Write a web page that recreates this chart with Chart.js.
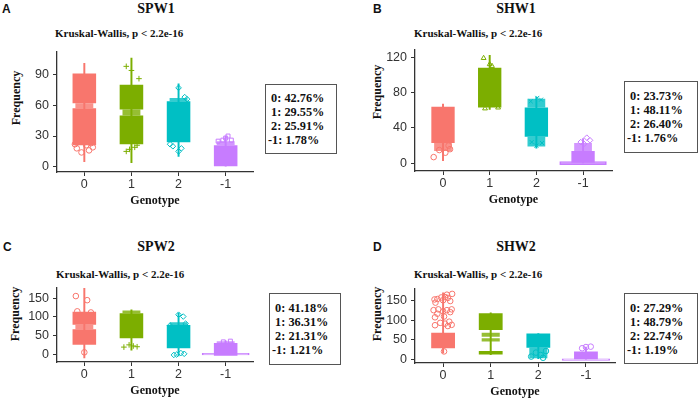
<!DOCTYPE html>
<html>
<head>
<meta charset="utf-8" />
<title>Genotype frequency</title>
<script src="https://cdn.jsdelivr.net/npm/chart.js@4.4.0/dist/chart.umd.min.js"></script>
<style>
  body { margin: 0; width: 700px; height: 399px; background: #fff; position: relative; overflow: hidden; }
  .t { position: absolute; white-space: pre; color: #111; }
  .letter { font: bold 12px "Liberation Sans", Arial, sans-serif; line-height: 14px; }
  .title { font: bold 14px "Liberation Serif", "Times New Roman", serif; line-height: 16px; transform: translateX(-50%); }
  .sub { font: bold 11px "Liberation Serif", "Times New Roman", serif; line-height: 13px; }
  .ylab { font: bold 12px "Liberation Serif", "Times New Roman", serif; line-height: 14px; transform: translate(-50%, -50%) rotate(-90deg); }
  .box { position: absolute; box-sizing: border-box; border: 1.5px solid #555; padding-left: 2px;
         display: flex; flex-direction: column; justify-content: center;
         font: bold 12.3px "Liberation Serif", "Times New Roman", serif; line-height: 14px; white-space: pre; color: #111; }
  canvas { position: absolute; }
</style>
</head>
<body>
<div class="t letter" style="left:2px;top:2px">A</div>
<div class="t title" style="left:156px;top:1px">SPW1</div>
<div class="t sub" style="left:55px;top:27px">Kruskal-Wallis, p &lt; 2.2e-16</div>
<div class="t ylab" style="left:16px;top:98px">Frequency</div>
<div class="box" style="left:265px;top:84px;width:72px;height:70px"> 0: 42.76%
 1: 29.55%
 2: 25.91%
-1: 1.78%</div>

<div class="t letter" style="left:373px;top:2px">B</div>
<div class="t title" style="left:516px;top:1px">SHW1</div>
<div class="t sub" style="left:414px;top:27px">Kruskal-Wallis, p &lt; 2.2e-16</div>
<div class="t ylab" style="left:377px;top:92px">Frequency</div>
<div class="box" style="left:624px;top:81px;width:74px;height:72px"> 0: 23.73%
 1: 48.11%
 2: 26.40%
-1: 1.76%</div>

<div class="t letter" style="left:3px;top:240px">C</div>
<div class="t title" style="left:156px;top:239px">SPW2</div>
<div class="t sub" style="left:56px;top:268px">Kruskal-Wallis, p &lt; 2.2e-16</div>
<div class="t ylab" style="left:15px;top:314px">Frequency</div>
<div class="box" style="left:269px;top:293px;width:72px;height:72px"> 0: 41.18%
 1: 36.31%
 2: 21.31%
-1: 1.21%</div>

<div class="t letter" style="left:373px;top:240px">D</div>
<div class="t title" style="left:516px;top:239px">SHW2</div>
<div class="t sub" style="left:414px;top:268px">Kruskal-Wallis, p &lt; 2.2e-16</div>
<div class="t ylab" style="left:377px;top:314px">Frequency</div>
<div class="box" style="left:624px;top:293px;width:74px;height:71px"> 0: 27.29%
 1: 48.79%
 2: 22.74%
-1: 1.19%</div>

<canvas id="pA"></canvas>
<canvas id="pB"></canvas>
<canvas id="pC"></canvas>
<canvas id="pD"></canvas>

<script>
// genotype groups, in axis order
const genotypes = ['0', '1', '2', '-1'];
const colors = ['#F8766D', '#7CAE00', '#00BFC4', '#C77CFF'];

// SPW1: violin extent per genotype, dense point clouds [g, lo, hi], thinner clouds, single outliers [g, jitter, y]
const spw1Ticks = [0, 30, 60, 90];
const spw1Span = [[5, 101], [4, 106], [10, 81], [0, 30]];
const spw1Dense = [[0, 62, 91], [0, 21, 57], [1, 56, 80], [1, 22, 50], [2, 24, 64], [3, 0, 21]];
const spw1Thin = [[0, 57, 62], [1, 50, 56], [2, 64, 67], [3, 21, 25]];
const spw1Foot = [];
const spw1Points = [
  [0, -0.16, 18], [0, 0.1, 16], [0, -0.06, 14], [0, 0.04, 21], [0, 0.18, 19], [0, -0.2, 22], [0, 0.14, 23],
  [1, -0.11, 98], [1, 0, 94], [1, 0.16, 86], [1, -0.11, 15], [1, 0.07, 19], [1, -0.04, 17], [1, 0.12, 21],
  [2, 0, 77], [2, 0.18, 66], [2, 0.13, 68], [2, 0, 15], [2, -0.12, 20], [2, 0.06, 18], [2, -0.18, 22],
  [3, 0.05, 30], [3, 0, 28], [3, -0.06, 26], [3, -0.16, 25], [3, 0.12, 26]
];

// SHW1
const shw1Ticks = [0, 40, 80, 120];
const shw1Span = [[3, 67], [61, 122], [17, 75], [0, 28]];
const shw1Dense = [[0, 23, 64], [1, 63, 108], [2, 30, 63], [3, 0, 14]];
const shw1Thin = [[0, 14, 23], [2, 63, 73], [2, 19, 30], [3, 14, 23]];
const shw1Foot = [[3, -1.5, 2]];
const shw1Points = [
  [0, -0.2, 7], [0, 0.05, 12], [0, 0.15, 16], [0, -0.08, 15], [0, 0.12, 20],
  [1, -0.13, 119], [1, 0, 112], [1, 0.18, 63], [1, -0.1, 62], [1, 0.05, 110],
  [2, 0.1, 72], [2, -0.12, 70], [2, 0.02, 74], [2, 0, 20], [2, -0.1, 24], [2, 0.12, 23],
  [3, 0.08, 29], [3, 0.15, 26], [3, -0.05, 24], [3, 0.02, 22]
];

// SPW2
const spw2Ticks = [0, 50, 100, 150];
const spw2Span = [[-10, 177], [11, 119], [-5, 110], [0, 36]];
const spw2Dense = [[0, 79, 114], [0, 25, 67], [1, 43, 110], [2, 16, 78], [3, -4, 30]];
const spw2Thin = [[0, 67, 79], [1, 110, 117], [2, 78, 86], [3, 30, 35]];
const spw2Foot = [[3, -2, 2]];
const spw2Points = [
  [0, -0.18, 156], [0, 0.06, 145], [0, 0, 5], [0, 0.14, 112], [0, -0.15, 115],
  [1, -0.16, 19], [1, 0.04, 22], [1, 0.12, 20], [1, -0.05, 25],
  [2, 0.1, 101], [2, 0, 106], [2, -0.18, 77], [2, 0.15, 82], [2, -0.1, -2], [2, 0.05, 3], [2, -0.04, -1], [2, 0.12, 1],
  [3, 0.1, 35], [3, -0.05, 33]
];

// SHW2
const shw2Ticks = [0, 50, 100, 150];
const shw2Span = [[17, 169], [13, 118], [3, 66], [0, 32]];
const shw2Dense = [[0, 29, 68], [1, 75, 117], [1, 13, 22], [2, 30, 66], [3, 0, 21]];
const shw2Thin = [[1, 58, 68], [1, 46, 54], [2, 4, 30]];
const shw2Foot = [[3, -1.5, 2]];
const shw2Points = [
  [0, -0.18, 152], [0, -0.12, 153], [0, -0.04, 157], [0, 0.04, 158], [0, 0.1, 156], [0, 0.19, 166], [0, 0.08, 164],
  [0, 0, 150], [0, -0.16, 144], [0, 0.15, 148],
  [0, -0.2, 125], [0, -0.1, 127], [0, 0, 122], [0, 0.08, 125], [0, 0.15, 120], [0, -0.12, 116], [0, 0.18, 127],
  [0, -0.17, 107], [0, -0.06, 93], [0, 0.04, 91], [0, 0.13, 96], [0, -0.17, 87], [0, 0.1, 85], [0, 0.02, 109], [0, 0.18, 88],
  [0, 0.02, 21],
  [2, -0.15, 8], [2, 0.1, 5], [2, 0.05, 12], [2, -0.05, 18], [2, 0.16, 22],
  [3, 0, 32], [3, 0.1, 33], [3, -0.08, 29]
];

function rgba(hex, a) {
  const n = parseInt(hex.slice(1), 16);
  return 'rgba(' + (n >> 16) + ',' + ((n >> 8) & 255) + ',' + (n & 255) + ',' + a + ')';
}

const tickFont = { family: 'Liberation Sans', size: 12.5 };
const serifBold = { family: 'Liberation Serif', size: 12, weight: 'bold' };

// frame = canvas [left, top, width, height]; area = plot box [left, top, right, bottom] on the page
function panel(id, frame, area, xr, yr, ticks, span, dense, thin, foot, points, shapes) {
  const cv = document.getElementById(id);
  cv.width = frame[2]; cv.height = frame[3];
  cv.style.left = frame[0] + 'px'; cv.style.top = frame[1] + 'px';
  const yW = 36, xH = 36.2;
  const seg = rows => rows.map(r => ({ x: r[0], y: [r[1], r[2]] }));
  const col = (c, a) => c.raw ? rgba(colors[Math.round(c.raw.x)], a) : colors[0];
  const bar = { grouped: false, categoryPercentage: 1, borderWidth: 0 };

  new Chart(cv, {
    type: 'bar',
    data: {
      datasets: [
        { type: 'scatter', data: points.map(p => ({ x: p[0] + p[1], y: p[2], g: p[0] })),
          pointStyle: c => c.raw ? shapes[c.raw.g] : 'circle',
          borderColor: c => c.raw ? colors[c.raw.g] : colors[0],
          backgroundColor: 'rgba(0,0,0,0)', pointRadius: 2.8, borderWidth: 1 },
        Object.assign({ data: seg(dense), backgroundColor: c => col(c, 1), barPercentage: 0.5 }, bar),
        Object.assign({ data: seg(thin), backgroundColor: c => col(c, 0.8), barPercentage: 0.38 }, bar),
        Object.assign({ data: span.map((r, i) => ({ x: i, y: r })), backgroundColor: c => col(c, 1), barThickness: 1.3 }, bar),
        Object.assign({}, bar, { data: seg(foot), backgroundColor: c => col(c, 0.25), borderColor: c => col(c, 1),
          borderWidth: 1, borderSkipped: false, barPercentage: 1 })
      ]
    },
    options: {
      responsive: false, animation: false, devicePixelRatio: 1,
      layout: { padding: {
        left: area[0] - frame[0] - yW, top: area[1] - frame[1],
        right: frame[0] + frame[2] - area[2], bottom: frame[1] + frame[3] - area[3] - xH } },
      plugins: { legend: { display: false }, tooltip: { enabled: false } },
      scales: {
        x: {
          type: 'linear', min: xr[0], max: xr[1], offset: false,
          afterBuildTicks: s => { s.ticks = genotypes.map((g, i) => ({ value: i })); },
          afterFit: s => { s.height = xH; },
          ticks: { callback: v => genotypes[v], font: tickFont, color: '#333', padding: 1, autoSkip: false, maxRotation: 0 },
          grid: { drawOnChartArea: false, tickLength: 4, color: '#333', offset: false },
          border: { color: '#333', width: 1.3 },
          title: { display: true, text: 'Genotype', font: serifBold, color: '#111', padding: 0 }
        },
        y: {
          min: yr[0], max: yr[1],
          afterBuildTicks: s => { s.ticks = ticks.map(v => ({ value: v })); },
          afterFit: s => { s.width = yW; },
          ticks: { font: tickFont, color: '#333', padding: 4 },
          grid: { drawOnChartArea: false, tickLength: 4, color: '#333' },
          border: { color: '#333', width: 1.3 }
        }
      }
    }
  });
}

panel('pA', [0, 40, 262, 170], [57, 50, 253, 172], [-0.58, 3.58], [-5.1, 112.5],
  spw1Ticks, spw1Span, spw1Dense, spw1Thin, spw1Foot, spw1Points, ['circle', 'cross', 'rectRot', 'rect']);
panel('pB', [362, 38, 260, 172], [415, 45, 612, 171], [-0.6, 3.62], [-8.7, 128.7],
  shw1Ticks, shw1Span, shw1Dense, shw1Thin, shw1Foot, shw1Points, ['circle', 'triangle', 'crossRot', 'rectRot']);
panel('pC', [0, 276, 262, 123], [57, 286, 253, 362], [-0.58, 3.58], [-21, 179],
  spw2Ticks, spw2Span, spw2Dense, spw2Thin, spw2Foot, spw2Points, ['circle', 'cross', 'rectRot', 'rect']);
panel('pD', [362, 277, 262, 123], [415, 287, 615, 363], [-0.59, 3.61], [-8.2, 179.6],
  shw2Ticks, shw2Span, shw2Dense, shw2Thin, shw2Foot, shw2Points, ['circle', 'cross', 'circle', 'circle']);
</script>
</body>
</html>
